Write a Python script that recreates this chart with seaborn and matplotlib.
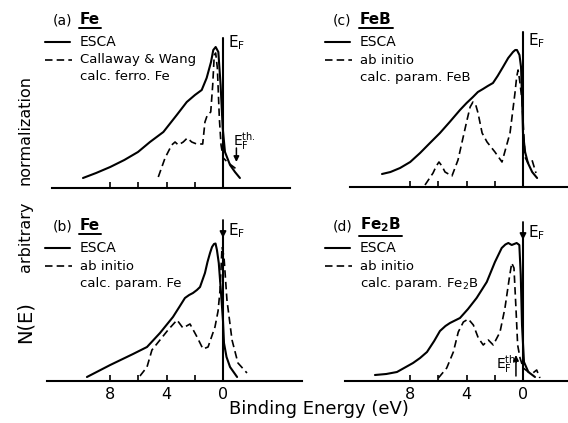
import numpy as np
import pandas as pd
import matplotlib
matplotlib.use("Agg")
import matplotlib.pyplot as plt
import seaborn as sns
from matplotlib.lines import Line2D
from matplotlib.transforms import IdentityTransform

# ---------------- data (binding energy in eV, N(E) in arbitrary units) ----------------
a_esca_E = [9.93, 9.0, 8.0, 7.0, 6.03, 5.18, 4.23, 3.28, 2.57, 1.99, 1.51, 1.16, 0.85, 0.69, 0.52, 0.33, 0.17, 0.02, -0.14, -0.5, -0.85, -1.2]
a_esca_N = [10, 15, 21, 28, 36, 46, 56, 73, 86, 93, 98, 110, 126, 138, 141, 136, 103, 60, 36, 23, 16, 10]
a_calc_E = [4.59, 4.11, 3.64, 3.4, 3.17, 2.82, 2.53, 2.22, 1.87, 1.44, 1.28, 1.11, 0.87, 0.73, 0.62, 0.52, 0.4, 0.26, 0.14, -0.02, -0.38, -0.85, -1.06]
a_calc_N = [11, 30, 43, 46, 43, 46, 50, 46, 44, 44, 66, 73, 76, 103, 133, 135, 120, 70, 43, 30, 25, 20, 18]

b_esca_E = [9.65, 8.0, 6.38, 5.39, 4.47, 3.55, 3.1, 2.7, 2.4, 2.13, 1.85, 1.63, 1.28, 1.1, 0.92, 0.78, 0.64, 0.53, 0.43, 0.3, 0.14, 0.0, -0.07, -0.25, -0.5, -1.0]
b_esca_N = [4, 16, 27, 34, 48, 64, 74, 83, 86, 88, 91, 94, 108, 119, 128, 134, 137, 137.5, 131, 118, 88, 60, 38, 24, 14, 4]
b_calc_E = [5.89, 5.39, 5.04, 4.47, 3.9, 3.26, 2.84, 2.34, 1.84, 1.42, 1.06, 0.57, 0.35, 0.21, 0.07, -0.07, -0.28, -0.64, -1.06, -1.7]
b_calc_N = [5, 14, 31, 41, 51, 61, 53, 57, 44, 32, 34, 54, 70, 91, 134, 124, 81, 41, 18, 8]

c_esca_E = [10.0, 9.4, 8.72, 8.0, 7.3, 6.6, 5.89, 5.2, 4.47, 4.0, 3.55, 3.2, 2.84, 2.5, 2.13, 1.8, 1.42, 1.05, 0.71, 0.55, 0.43, 0.25, 0.14, 0.07, 0.0, -0.15, -0.35, -0.65, -1.0]
c_esca_N = [13, 15, 19, 25, 34, 44, 54, 65, 77, 84, 90, 95, 98, 101, 104, 111, 120, 129, 135, 137, 137, 132, 120, 90, 54, 35, 24, 15, 9]
c_calc_E = [6.95, 6.38, 6.15, 5.96, 5.75, 5.53, 5.04, 4.61, 3.97, 3.75, 3.55, 3.35, 3.19, 2.9, 2.55, 1.99, 1.49, 0.92, 0.57, 0.45, 0.35, 0.25, 0.07, -0.14, -0.35, -0.64, -0.92]
c_calc_N = [2, 14, 21, 25, 21, 15, 11, 27, 67, 80, 85, 82, 74, 54, 45, 35, 25, 54, 94, 110, 117, 108, 87, 30, 24, 27, 14]

d_esca_E = [10.5, 9.7, 8.94, 7.8, 7.3, 6.81, 6.3, 5.89, 5.5, 5.18, 4.47, 3.9, 3.29, 2.57, 1.99, 1.51, 1.25, 1.04, 0.8, 0.45, 0.26, 0.16, 0.07, -0.07, -0.38, -0.85]
d_esca_N = [6, 7, 9, 18, 23, 29, 40, 50, 55, 58, 63, 72, 83, 99, 119, 133, 136.5, 138, 136, 138, 136, 106, 56, 19, 9, 4]
d_calc_E = [6.0, 5.41, 4.94, 4.59, 4.23, 3.88, 3.52, 3.17, 2.82, 2.46, 2.11, 1.63, 1.28, 0.97, 0.8, 0.64, 0.5, 0.38, 0.21, -0.02, -0.38, -0.7, -0.97, -1.2]
d_calc_N = [3, 13, 29, 49, 59, 62, 56, 43, 36, 41, 36, 49, 73, 103, 118, 113, 73, 36, 23, 13, 9, 8, 11, 3]

tick_values = [8, 6, 4, 2, 0]
tick_labels = ["8", "", "4", "", "0"]
EF = 0.0
a_Eth = -0.95
d_Eth = 0.5

# ---------------- figure ----------------
sns.set_style("white")
plt.rcParams["font.family"] = ["DejaVu Sans"]
plt.rcParams["mathtext.fontset"] = "dejavusans"
plt.rcParams["text.color"] = "black"
plt.rcParams["xtick.color"] = "black"

W, H = 568, 423
fig = plt.figure(figsize=(W / 100, H / 100), dpi=100)
PX_PER_EV = 14.1


def fx(x):
    return x / W


def fy(y):
    return 1 - y / H


panels = [
    dict(E=a_esca_E, N=a_esca_N, cE=a_calc_E, cN=a_calc_N, left=52, right=290, base=188, top=30, e0=223,
         ef_top=38, arrow=False, labels=False),
    dict(E=c_esca_E, N=c_esca_N, cE=c_calc_E, cN=c_calc_N, left=350, right=568, base=187, top=30, e0=523,
         ef_top=32, arrow=False, labels=False),
    dict(E=b_esca_E, N=b_esca_N, cE=b_calc_E, cN=b_calc_N, left=47, right=302, base=381, top=215, e0=223,
         ef_top=220, arrow=True, labels=True),
    dict(E=d_esca_E, N=d_esca_N, cE=d_calc_E, cN=d_calc_N, left=345, right=568, base=381, top=215, e0=523,
         ef_top=222, arrow=True, labels=True),
]

axes = []
DASH = (0, (4.5, 2.5))
for p in panels:
    ax = fig.add_axes([fx(p["left"]), fy(p["base"]), (p["right"] - p["left"]) / W, (p["base"] - p["top"]) / H])
    ax.patch.set_alpha(0)
    xl = (p["e0"] - p["left"]) / PX_PER_EV
    xr = (p["e0"] - p["right"]) / PX_PER_EV
    hgt = p["base"] - p["top"]
    ax.set_xlim(xl, xr)
    ax.set_ylim(0, hgt)
    sns.lineplot(x=p["E"], y=p["N"], ax=ax, color="black", lw=1.5, sort=False,
                 solid_joinstyle="round", solid_capstyle="round")
    sns.lineplot(x=p["cE"], y=p["cN"], ax=ax, color="black", lw=1.2, sort=False, linestyle=DASH,
                 dash_joinstyle="round")
    for s in ["top", "left", "right"]:
        ax.spines[s].set_visible(False)
    ax.spines["bottom"].set_linewidth(1.5)
    ax.spines["bottom"].set_color("black")
    ax.set_yticks([])
    ax.set_xticks(tick_values)
    ax.set_xticklabels(tick_labels if p["labels"] else [""] * len(tick_values))
    ax.tick_params(axis="x", bottom=True, direction="in", length=4, width=1.2, labelsize=11.5, pad=4,
                   colors="black")
    if p["arrow"]:
        ax.axvline(EF, ymin=0, ymax=(p["base"] - p["ef_top"] - 16) / hgt, color="black", lw=1.5)
        ax.annotate("", xy=(EF, p["base"] - p["ef_top"] - 18), xytext=(EF, p["base"] - p["ef_top"]),
                    arrowprops=dict(arrowstyle="-|>", color="black", lw=1.3, mutation_scale=9,
                                    shrinkA=0, shrinkB=0))
    else:
        ax.axvline(EF, ymin=0, ymax=(p["base"] - p["ef_top"]) / hgt, color="black", lw=1.5)
    axes.append(ax)

# E_F^th arrows
axes[0].annotate("", xy=(a_Eth, 26), xytext=(a_Eth, 40),
                 arrowprops=dict(arrowstyle="-|>", color="black", lw=1.1, mutation_scale=8, shrinkA=0, shrinkB=0))
axes[3].annotate("", xy=(d_Eth, 26), xytext=(d_Eth, 5),
                 arrowprops=dict(arrowstyle="-|>", color="black", lw=1.1, mutation_scale=8, shrinkA=0, shrinkB=0))

EFL = r"E$_\mathregular{F}$"
EFTH = r"E$_\mathregular{F}^\mathregular{th.}$"
fig.text(fx(228), fy(43), EFL, fontsize=11, va="center", ha="left")
fig.text(fx(528), fy(41), EFL, fontsize=11, va="center", ha="left")
fig.text(fx(228), fy(231), EFL, fontsize=11, va="center", ha="left")
fig.text(fx(528), fy(233), EFL, fontsize=11, va="center", ha="left")
fig.text(fx(233), fy(141), EFTH, fontsize=10, va="center", ha="left")
fig.text(fx(496), fy(364), EFTH, fontsize=10, va="center", ha="left")

# ---------------- panel legends ----------------
legends = [
    dict(tag="(a)", name="Fe", x0=45, y0=20, l2=["Callaway & Wang", "calc. ferro. Fe"]),
    dict(tag="(c)", name="FeB", x0=325, y0=20, l2=["ab initio", "calc. param. FeB"]),
    dict(tag="(b)", name="Fe", x0=45, y0=226, l2=["ab initio", "calc. param. Fe"]),
    dict(tag="(d)", name=r"Fe$_\mathregular{2}$B", x0=325, y0=226,
         l2=["ab initio", r"calc. param. Fe$_\mathregular{2}$B"]),
]
name_texts = []
for lg in legends:
    x0, y0 = lg["x0"], lg["y0"]
    fig.text(fx(x0 + 8), fy(y0), lg["tag"], fontsize=10, va="center", ha="left")
    t = fig.text(fx(x0 + 35), fy(y0 - 1), lg["name"], fontsize=11, fontweight="bold", va="center", ha="left")
    name_texts.append(t)
    fig.add_artist(Line2D([fx(x0), fx(x0 + 25)], [fy(y0 + 22), fy(y0 + 22)], color="black", lw=1.5,
                          transform=fig.transFigure))
    fig.text(fx(x0 + 35), fy(y0 + 22), "ESCA", fontsize=10, va="center", ha="left")
    fig.add_artist(Line2D([fx(x0), fx(x0 + 27)], [fy(y0 + 40), fy(y0 + 40)], color="black", lw=1.2,
                          linestyle=DASH, transform=fig.transFigure))
    fig.text(fx(x0 + 35), fy(y0 + 40), lg["l2"][0], fontsize=9.5, va="center", ha="left")
    fig.text(fx(x0 + 35), fy(y0 + 57), lg["l2"][1], fontsize=9.5, va="center", ha="left")

# underline names
fig.canvas.draw()
renderer = fig.canvas.get_renderer()
for t in name_texts:
    bb = t.get_window_extent(renderer)
    fig.add_artist(Line2D([bb.x0 - 1, bb.x1 + 1], [bb.y0 - 2, bb.y0 - 2], color="black", lw=1.4,
                          transform=IdentityTransform()))

# axis labels
fig.text(fx(25), fy(130), "normalization", rotation=90, fontsize=11.5, va="center", ha="center")
fig.text(fx(25), fy(237), "arbitrary", rotation=90, fontsize=11.5, va="center", ha="center")
fig.text(fx(25), fy(322), "N(E)", rotation=90, fontsize=14, va="center", ha="center")
fig.text(fx(319), fy(409), "Binding Energy (eV)", fontsize=13, va="center", ha="center")

fig.savefig("out.png", dpi=100)
